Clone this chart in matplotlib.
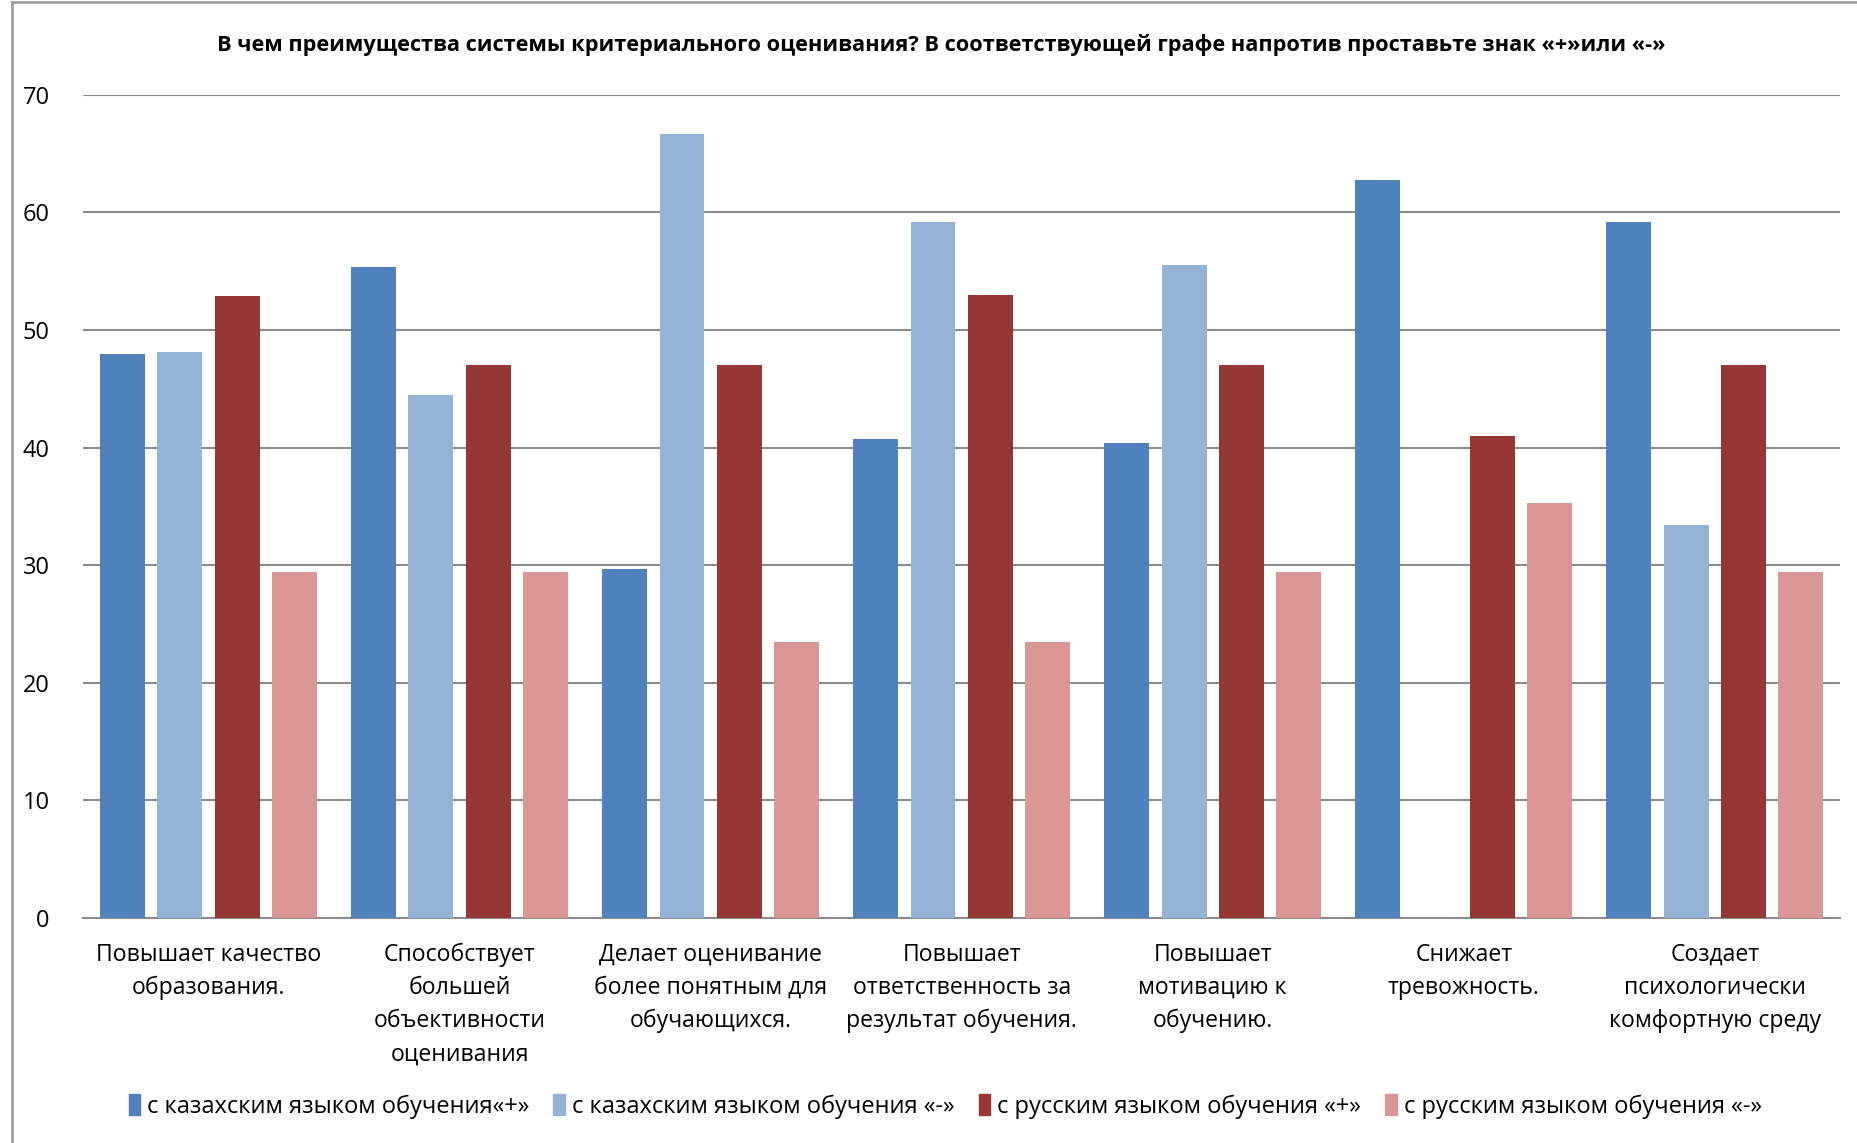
import matplotlib.pyplot as plt
import numpy as np
from matplotlib.lines import Line2D

plt.rcParams['font.family'] = ['Open Sans', 'DejaVu Sans']

# data
kategorier = ["Повышает качество\nобразования.",
              "Способствует\nбольшей\nобъективности\nоценивания",
              "Делает оценивание\nболее понятным для\nобучающихся.",
              "Повышает\nответственность за\nрезультат обучения.",
              "Повышает\nмотивацию к\nобучению.",
              "Снижает\nтревожность.",
              "Создает\nпсихологически\nкомфортную среду"]

kaz_plus = [48.0, 55.4, 29.7, 40.7, 40.4, 62.8, 59.2]
kaz_minus = [48.1, 44.5, 66.7, 59.2, 55.5, 0, 33.4]
rus_plus = [52.9, 47.0, 47.0, 53.0, 47.0, 41.0, 47.0]
rus_minus = [29.4, 29.4, 23.5, 23.5, 29.4, 35.3, 29.4]

serier = ["с казахским языком обучения«+»", "с казахским языком обучения «-»",
          "с русским языком обучения «+»", "с русским языком обучения «-»"]
farver = ["#4F81BD", "#95B3D7", "#953735", "#D99694"]

fig = plt.figure(figsize=(18.57, 11.43), dpi=100)
ax = fig.add_axes([0.0447, 0.197, 0.9463, 0.72])

x = np.arange(len(kategorier))
step = 0.228
width = 0.179
for i, (vals, navn, farve) in enumerate(zip([kaz_plus, kaz_minus, rus_plus, rus_minus], serier, farver)):
    ax.bar(x + (i - 1.5) * step, vals, width, color=farve, label=navn, zorder=3)

ax.set_xlim(-0.5, len(kategorier) - 0.5)
ax.set_ylim(0, 70)
ax.set_yticks(range(0, 71, 10))
ax.yaxis.grid(True, color="#8C8C8C", linewidth=1.5, zorder=0)
ax.set_xticks(x)
ax.set_xticklabels(kategorier, fontsize=16.6, linespacing=1.5)
ax.tick_params(axis='y', labelsize=17, length=0, pad=24)
ax.tick_params(axis='x', length=0, pad=18)
for s in ["top", "right", "left"]:
    ax.spines[s].set_visible(False)
ax.spines["bottom"].set_color("#8C8C8C")
ax.spines["bottom"].set_linewidth(1.5)

fig.text(0.507, 0.961, "В чем преимущества системы критериального оценивания? В соответствующей графе напротив проставьте знак «+»или «-»",
         ha="center", va="center", fontsize=15.7, fontweight="bold")

handles = [plt.Rectangle((0, 0), 1, 1, color=f) for f in farver]
fig.legend(handles, serier, loc="center", bbox_to_anchor=(0.509, 0.032), ncol=4, frameon=False,
           fontsize=17, handlelength=0.5, handleheight=1.0, handletextpad=0.3, columnspacing=1.0)

# ramme paa venstre og top
fig.add_artist(Line2D([0.0065, 0.0065], [0, 0.998], color="#A0A0A0", linewidth=2, transform=fig.transFigure))
fig.add_artist(Line2D([0.0065, 1], [0.998, 0.998], color="#A0A0A0", linewidth=2, transform=fig.transFigure))

fig.savefig("out.png", dpi=100)
